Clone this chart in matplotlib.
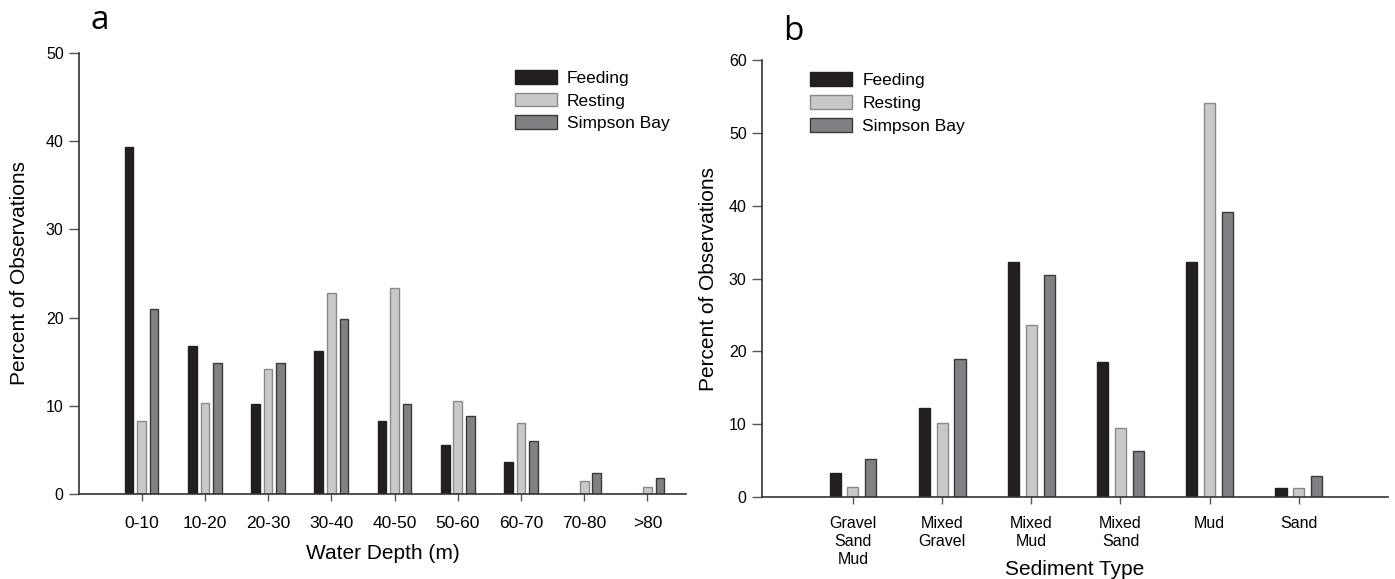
import numpy as np
import matplotlib.pyplot as plt

plt.rcParams['font.family'] = ['Liberation Sans', 'DejaVu Sans']

# panel a: water depth
depth_bins = ['0-10', '10-20', '20-30', '30-40', '40-50', '50-60', '60-70', '70-80', '>80']
depth_feeding = [39.3, 16.8, 10.2, 16.2, 8.3, 5.6, 3.6, 0, 0]
depth_resting = [8.3, 10.3, 14.2, 22.8, 23.4, 10.6, 8.0, 1.5, 0.8]
depth_simpson = [21.0, 14.9, 14.9, 19.8, 10.2, 8.9, 6.0, 2.4, 1.8]

# panel b: sediment type
sediment_types = ['Gravel\nSand\nMud', 'Mixed\nGravel', 'Mixed\nMud', 'Mixed\nSand', 'Mud', 'Sand']
sed_feeding = [3.3, 12.2, 32.3, 18.5, 32.3, 1.3]
sed_resting = [1.4, 10.1, 23.6, 9.5, 54.1, 1.2]
sed_simpson = [5.2, 19.0, 30.5, 6.3, 39.1, 2.9]

series_names = ['Feeding', 'Resting', 'Simpson Bay']
face_colors = ['#231f20', '#c8c9ca', '#808184']
edge_colors = ['#231f20', '#8a8a8a', '#3a3a3a']


def draw_panel(ax, cats, series, offset, width, tick_size):
    x = np.arange(len(cats))
    for i, vals in enumerate(series):
        ax.bar(x + (i - 1) * offset, vals, width=width, color=face_colors[i],
               edgecolor=edge_colors[i], linewidth=1.0, label=series_names[i], zorder=2)
    ax.set_xticks(x)
    ax.set_xticklabels(cats, fontsize=tick_size, linespacing=1.22)
    for side in ['top', 'right']:
        ax.spines[side].set_visible(False)
    for side in ['left', 'bottom']:
        ax.spines[side].set_color('#333333')
        ax.spines[side].set_linewidth(1.2)
    ax.tick_params(axis='x', length=5, width=1, color='#555555', pad=11)
    ax.tick_params(axis='y', length=7, width=1, color='#555555', labelsize=11.5, pad=4)
    leg = ax.legend(frameon=False, fontsize=12.5, handlelength=2.4, handleheight=0.85,
                    handletextpad=0.6, labelspacing=0.4, loc='upper left',
                    borderaxespad=0, borderpad=0)
    return leg


fig = plt.figure(figsize=(13.95, 5.79), dpi=100)

ax1 = fig.add_axes([0.0566, 0.1468, 0.4352, 0.7617])
draw_panel(ax1, depth_bins, [depth_feeding, depth_resting, depth_simpson], 0.198, 0.135, 12.5)
ax1.set_xlim(-0.99, 8.61)
ax1.set_ylim(0, 50)
ax1.set_yticks([0, 10, 20, 30, 40, 50])
ax1.set_xlabel('Water Depth (m)', fontsize=15, labelpad=9)
ax1.set_ylabel('Percent of Observations', fontsize=15, labelpad=12)
ax1.get_legend().set_bbox_to_anchor((0.718, 0.962))
fig.text(0.0717, 0.965, 'a', fontsize=24, family='Open Sans', va='center', ha='center')

ax2 = fig.add_axes([0.5462, 0.1416, 0.4488, 0.7547])
draw_panel(ax2, sediment_types, [sed_feeding, sed_resting, sed_simpson], 0.2, 0.125, 11.5)
ax2.set_xlim(-1.02, 6.0)
ax2.set_ylim(0, 60)
ax2.set_yticks([0, 10, 20, 30, 40, 50, 60])
ax2.tick_params(axis='x', pad=9)
ax2.set_xlabel('Sediment Type', fontsize=15, labelpad=-5)
ax2.set_ylabel('Percent of Observations', fontsize=15, labelpad=8)
ax2.get_legend().set_bbox_to_anchor((0.077, 0.972))
fig.text(0.5685, 0.945, 'b', fontsize=24, family='Open Sans', va='center', ha='center')

fig.savefig('out.png', dpi=100)
